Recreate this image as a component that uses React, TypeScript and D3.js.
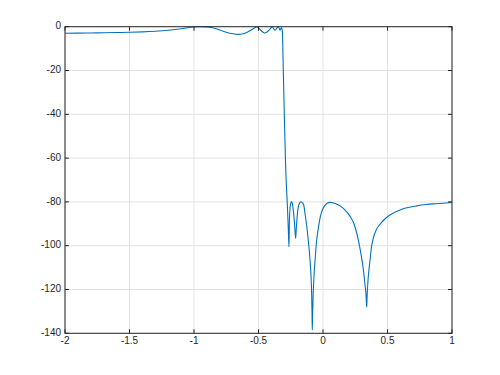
import React from "react";
import * as d3 from "d3";

const freq = [
  -2.0, -1.9, -1.8, -1.7, -1.6, -1.5, -1.4, -1.3, -1.2, -1.1, -1.05, -1.0, -0.95, -0.9, -0.85, -0.8,
  -0.75, -0.7, -0.66, -0.62, -0.58, -0.55, -0.53, -0.515, -0.5, -0.48, -0.46, -0.45, -0.44, -0.42,
  -0.4, -0.395, -0.385, -0.372, -0.36, -0.347, -0.34, -0.333, -0.326, -0.32, -0.315, -0.31, -0.305,
  -0.3, -0.295, -0.29, -0.285, -0.28, -0.276, -0.272, -0.268, -0.264, -0.26, -0.255, -0.249, -0.243,
  -0.237, -0.23, -0.222, -0.216, -0.212, -0.207, -0.2, -0.192, -0.182, -0.172, -0.162, -0.15, -0.138,
  -0.126, -0.115, -0.1, -0.092, -0.088, -0.085, -0.083, -0.08, -0.076, -0.07, -0.062, -0.05, -0.036,
  -0.02, -0.01, 0.005, 0.02, 0.035, 0.054, 0.075, 0.1, 0.132, 0.17, 0.209, 0.24, 0.274, 0.295, 0.313,
  0.326, 0.333, 0.338, 0.339, 0.342, 0.35, 0.364, 0.375, 0.39, 0.415, 0.442, 0.48, 0.519, 0.597, 0.65,
  0.726, 0.8, 0.855, 0.93, 1.0,
];

const magnitude = [
  -3.0, -2.95, -2.85, -2.75, -2.65, -2.55, -2.35, -2.05, -1.6, -0.95, -0.5, -0.15, 0, -0.1, -0.6, -1.5,
  -2.5, -3.2, -3.5, -3.2, -2.3, -1.3, -0.5, 0, -0.6, -1.8, -2.7, -2.9, -2.7, -1.7,
  -0.3, 0, -0.6, -1.6, -0.8, 0, -0.7, -1.6, -0.8, -0.5, -2, -14, -27,
  -40, -52, -63, -71, -77, -82, -88, -94, -100.5, -88, -82.5, -80.4, -79.9,
  -80.8, -84, -89, -94, -96.6, -92, -86.5, -82.5, -80.6, -80, -80.2, -81.3, -86,
  -91, -97, -107, -115, -122, -131, -138.5, -130, -122, -114, -107, -98, -92,
  -86.5, -84.5, -82.5, -81.2, -80.5, -80.2, -80.35, -80.8, -81.8, -83.6, -86.5, -90, -97.5, -104, -111,
  -118, -122, -127.5, -128, -123, -115, -107, -101, -96.5, -92.5, -90.2, -87.8, -86, -83.7, -82.7,
  -81.8, -81.2, -80.9, -80.6, -80.3,
];

const xTicks = [-2, -1.5, -1, -0.5, 0, 0.5, 1];
const yTicks = [0, -20, -40, -60, -80, -100, -120, -140];

const W = 500;
const H = 375;
const left = 65;
const right = 452;
const top = 26.7;
const bottom = 333.3;

export default function App() {
  const x = d3.scaleLinear().domain([-2, 1]).range([left, right]);
  const y = d3.scaleLinear().domain([-140, 0]).range([bottom, top]);
  const pts: [number, number][] = freq.map((f, i) => [f, magnitude[i]]);
  const line = d3
    .line<[number, number]>()
    .x((d) => x(d[0]))
    .y((d) => y(d[1]))
    .curve(d3.curveMonotoneX);
  const axisColor = "#262626";
  const gridColor = "#e3e3e3";
  const tl = 4;
  return (
    <svg
      width={W}
      height={H}
      style={{ position: "absolute", left: 0, top: 0, background: "#fff" }}
      fontFamily="'Liberation Sans', Arial, Helvetica, sans-serif"
      fontSize={10}
    >
      <rect x={0} y={0} width={W} height={H} fill="#fff" />
      {xTicks.map((t) => (
        <line key={"gx" + t} x1={x(t)} x2={x(t)} y1={top} y2={bottom} stroke={gridColor} strokeWidth={1} />
      ))}
      {yTicks.map((t) => (
        <line key={"gy" + t} x1={left} x2={right} y1={y(t)} y2={y(t)} stroke={gridColor} strokeWidth={1} />
      ))}
      <path d={line(pts) || ""} fill="none" stroke="#0072BD" strokeWidth={1.1} strokeLinejoin="round" />
      <rect x={left} y={top} width={right - left} height={bottom - top} fill="none" stroke={axisColor} strokeWidth={1} />
      {xTicks.map((t) => (
        <g key={"tx" + t}>
          <line x1={x(t)} x2={x(t)} y1={bottom} y2={bottom - tl} stroke={axisColor} />
          <line x1={x(t)} x2={x(t)} y1={top} y2={top + tl} stroke={axisColor} />
          <text x={x(t)} y={bottom + 8} textAnchor="middle" dominantBaseline="middle" fill={axisColor}>
            {t}
          </text>
        </g>
      ))}
      {yTicks.map((t) => (
        <g key={"ty" + t}>
          <line x1={left} x2={left + tl} y1={y(t)} y2={y(t)} stroke={axisColor} />
          <line x1={right} x2={right - tl} y1={y(t)} y2={y(t)} stroke={axisColor} />
          <text x={left - 4} y={y(t)} textAnchor="end" dominantBaseline="middle" fill={axisColor}>
            {t}
          </text>
        </g>
      ))}
    </svg>
  );
}
